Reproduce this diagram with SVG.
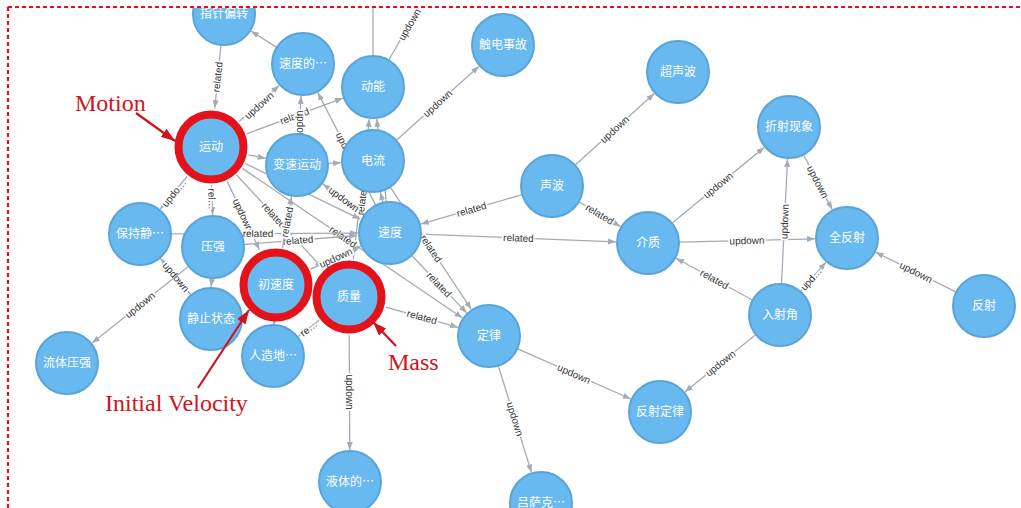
<svg xmlns="http://www.w3.org/2000/svg" width="1021" height="508" viewBox="0 0 1021 508">
<defs>
<style>
.e{stroke:#a5abb6;stroke-width:1.3;fill:none;marker-end:url(#ah)}
.e0{stroke:#a5abb6;stroke-width:1.3;fill:none}
.l{font-family:"Liberation Sans",Arial,sans-serif;font-size:10px;fill:#333;text-anchor:middle;stroke:#fff;stroke-width:3.5;paint-order:stroke;stroke-linejoin:round}
.b{fill:#68b9ef;stroke:#5ba4d9;stroke-width:2}
.t{font-family:"Noto Sans CJK SC","Noto Sans",sans-serif;font-size:12px;fill:#fff;text-anchor:middle}
.ring{fill:none;stroke:#e4131b;stroke-width:8}
.ann{font-family:"Liberation Serif","Times New Roman",serif;font-size:24px;fill:#d0141c}
.aa{stroke:#d0141c;stroke-width:2.2;fill:none;marker-end:url(#ra)}
.fr{stroke:#e8101a;stroke-width:2.2;stroke-dasharray:4 3;fill:none}
</style>
<marker id="ah" viewBox="0 0 8 6" refX="8" refY="3" markerWidth="8" markerHeight="6" markerUnits="userSpaceOnUse" orient="auto"><path d="M0,0L8,3L0,6z" fill="#a5abb6"/></marker>
<marker id="ra" viewBox="0 0 14 10" refX="14" refY="5" markerWidth="14" markerHeight="10" markerUnits="userSpaceOnUse" orient="auto"><path d="M0,0L14,5L0,10z" fill="#d0141c"/></marker>
<clipPath id="cp"><rect x="9" y="8" width="1012" height="500"/></clipPath>
</defs>
<rect x="0" y="0" width="1021" height="508" fill="#fff"/>
<g clip-path="url(#cp)">
<g id="connectors">
<line class="e" x1="221" y1="44.9" x2="214.8" y2="108.2"/>
<text class="l" transform="translate(217.5 77) rotate(-84.4)" y="3.5">related</text>
<line class="e" x1="276.8" y1="47.4" x2="251" y2="31.1"/>
<line class="e" x1="239.2" y1="121.5" x2="279.2" y2="85.4"/>
<text class="l" transform="translate(259 105.5) rotate(-42)" y="3.5">updown</text>
<line class="e" x1="246.6" y1="133.8" x2="343" y2="98.1"/>
<text class="l" transform="translate(294.5 116) rotate(-20.3)" y="3.5">related</text>
<line class="e" x1="375.8" y1="205.4" x2="317.7" y2="92.4"/>
<text class="l" transform="translate(346.5 148.5) rotate(62.8)" y="3.5">updown</text>
<line class="e" x1="298.8" y1="134" x2="301.1" y2="96"/>
<text class="l" transform="translate(300 128) rotate(90)" y="3.5">updown</text>
<line class="e" x1="386.4" y1="202.2" x2="376.7" y2="118.8"/>
<line class="e" x1="353.3" y1="259.3" x2="369.4" y2="118.8"/>
<text class="l" transform="translate(362 200) rotate(-83.5)" y="3.5">related</text>
<line class="e0" x1="373" y1="56" x2="373" y2="-10"/>
<line class="e0" x1="388.7" y1="60.3" x2="428" y2="-8"/>
<text class="l" transform="translate(409.5 24.5) rotate(-59.5)" y="3.5">updown</text>
<line class="e" x1="396.1" y1="140.4" x2="479.1" y2="66.3"/>
<text class="l" transform="translate(437.6 103.4) rotate(-41.7)" y="3.5">updown</text>
<line class="e" x1="248.2" y1="154.8" x2="265.7" y2="158.4"/>
<line class="e" x1="328" y1="163.4" x2="341" y2="162.7"/>
<line class="e" x1="365" y1="214.7" x2="322.8" y2="183.9"/>
<text class="l" transform="translate(344 199.3) rotate(36.2)" y="3.5">updown</text>
<line class="e" x1="522.2" y1="194.6" x2="420.7" y2="224.1"/>
<text class="l" transform="translate(471.5 209.4) rotate(-16.2)" y="3.5">related</text>
<line class="e" x1="421" y1="234.2" x2="616" y2="241.8"/>
<text class="l" transform="translate(518.5 238) rotate(2.2)" y="3.5">related</text>
<line class="e" x1="575" y1="165.2" x2="654.3" y2="93.5"/>
<text class="l" transform="translate(614.6 129.3) rotate(-42.1)" y="3.5">updown</text>
<line class="e" x1="578.7" y1="201.8" x2="620.5" y2="226.6"/>
<text class="l" transform="translate(599.6 214.2) rotate(30.7)" y="3.5">related</text>
<line class="e" x1="671.9" y1="223.3" x2="764.3" y2="147.3"/>
<text class="l" transform="translate(718 185.3) rotate(-39.4)" y="3.5">updown</text>
<line class="e" x1="679" y1="242.2" x2="815" y2="238.8"/>
<text class="l" transform="translate(747 240.5) rotate(-1.4)" y="3.5">updown</text>
<line class="e" x1="781.5" y1="284" x2="787.5" y2="159"/>
<text class="l" transform="translate(784.5 221.5) rotate(-87.3)" y="3.5">updown</text>
<line class="e" x1="803.4" y1="154.5" x2="832.2" y2="209.6"/>
<text class="l" transform="translate(817.8 182) rotate(62.4)" y="3.5">updown</text>
<line class="e" x1="752.8" y1="300.2" x2="676.1" y2="258.3"/>
<text class="l" transform="translate(714.4 279.2) rotate(28.6)" y="3.5">related</text>
<line class="e" x1="800.3" y1="291.6" x2="826" y2="262.1"/>
<text class="l" transform="translate(811 279) rotate(-49)" y="3.5">upd…</text>
<line class="e" x1="956.3" y1="292.2" x2="875.6" y2="252.2"/>
<text class="l" transform="translate(916 272.2) rotate(26.4)" y="3.5">updown</text>
<line class="e" x1="755.9" y1="334.5" x2="684.9" y2="391.9"/>
<text class="l" transform="translate(720.4 363.2) rotate(-38.9)" y="3.5">updown</text>
<line class="e" x1="517.3" y1="348.6" x2="630.8" y2="399"/>
<text class="l" transform="translate(574 373.8) rotate(24)" y="3.5">updown</text>
<line class="e" x1="498.2" y1="365.6" x2="531.5" y2="472.5"/>
<text class="l" transform="translate(515 419) rotate(72.7)" y="3.5">updown</text>
<line class="e" x1="349.2" y1="335" x2="349.8" y2="450"/>
<text class="l" transform="translate(349.5 392) rotate(90)" y="3.5">updown</text>
<line class="e" x1="385.6" y1="307.2" x2="458.2" y2="327.4"/>
<text class="l" transform="translate(422 317) rotate(15.6)" y="3.5">related</text>
<line class="e" x1="411.5" y1="255.3" x2="466.8" y2="312.9"/>
<text class="l" transform="translate(439 284.6) rotate(46.1)" y="3.5">related</text>
<line class="e" x1="390.1" y1="186.8" x2="471.3" y2="309.3"/>
<text class="l" transform="translate(431 248.5) rotate(56.5)" y="3.5">related</text>
<line class="e" x1="245.2" y1="163.5" x2="360.2" y2="219.1"/>
<line class="e" x1="236.7" y1="175" x2="322.6" y2="268.3"/>
<text class="l" transform="translate(274 215.5) rotate(47.4)" y="3.5">related</text>
<line class="e" x1="242.4" y1="168.4" x2="462.5" y2="318"/>
<text class="l" transform="translate(343 236.8) rotate(34.2)" y="3.5">related</text>
<line class="e" x1="227.2" y1="181.4" x2="259.4" y2="249.7"/>
<text class="l" transform="translate(243 215) rotate(64.8)" y="3.5">updown</text>
<line class="e" x1="187" y1="176.5" x2="160.2" y2="209.2"/>
<text class="l" transform="translate(174 193) rotate(-50.8)" y="3.5">updo…</text>
<line class="e" x1="211.4" y1="185" x2="212.6" y2="215"/>
<text class="l" transform="translate(212 199) rotate(88)" y="3.5">rel…</text>
<line class="e" x1="171" y1="233.9" x2="358" y2="233.1"/>
<text class="l" transform="translate(258 233.5) rotate(-0.2)" y="3.5">related</text>
<line class="e" x1="243.9" y1="244.5" x2="357.1" y2="235.5"/>
<text class="l" transform="translate(298 240.2) rotate(-4.5)" y="3.5">related</text>
<line class="e" x1="282.5" y1="247.6" x2="291.5" y2="196.5"/>
<text class="l" transform="translate(287 222) rotate(-80)" y="3.5">related</text>
<line class="e" x1="310.6" y1="269.2" x2="360.9" y2="246.3"/>
<text class="l" transform="translate(335.7 257.8) rotate(-24.5)" y="3.5">updown</text>
<line class="e" x1="319" y1="320.3" x2="298.3" y2="336.4"/>
<text class="l" transform="translate(308.6 328.4) rotate(-37.8)" y="3.5">re…</text>
<line class="e" x1="274.3" y1="318" x2="274" y2="326"/>
<line class="e" x1="212.1" y1="278" x2="211.1" y2="287"/>
<line class="e" x1="191.1" y1="295.2" x2="160.5" y2="258.5"/>
<text class="l" transform="translate(176 277) rotate(50.1)" y="3.5">updown</text>
<line class="e" x1="188.7" y1="266.3" x2="92" y2="343.1"/>
<text class="l" transform="translate(140 305) rotate(-38.5)" y="3.5">updown</text>
<line class="e" x1="382.9" y1="202.8" x2="380.4" y2="192.1"/>
</g>
<g id="node-zhizhenpianzhuan"><circle class="b" cx="224" cy="14" r="31"/><text class="t" x="224" y="18">指针偏转</text></g>
<g id="node-sudude"><circle class="b" cx="303" cy="64" r="31"/><text class="t" x="303" y="68">速度的…</text></g>
<g id="node-dongneng"><circle class="b" cx="373" cy="87" r="31"/><text class="t" x="373" y="91">动能</text></g>
<g id="node-chudianshigu"><circle class="b" cx="503" cy="45" r="31"/><text class="t" x="503" y="49">触电事故</text></g>
<g id="node-chaoshengbo"><circle class="b" cx="678" cy="72" r="31"/><text class="t" x="678" y="76">超声波</text></g>
<g id="node-biansuyundong"><circle class="b" cx="297" cy="165" r="31"/><text class="t" x="297" y="169">变速运动</text></g>
<g id="node-dianliu"><circle class="b" cx="373" cy="161" r="31"/><text class="t" x="373" y="165">电流</text></g>
<g id="node-zheshexianxiang"><circle class="b" cx="789" cy="127" r="31"/><text class="t" x="789" y="131">折射现象</text></g>
<g id="node-shengbo"><circle class="b" cx="552" cy="186" r="31"/><text class="t" x="552" y="190">声波</text></g>
<g id="node-baochijing"><circle class="b" cx="140" cy="234" r="31"/><text class="t" x="140" y="238">保持静…</text></g>
<g id="node-yaqiang"><circle class="b" cx="213" cy="247" r="31"/><text class="t" x="213" y="251">压强</text></g>
<g id="node-sudu"><circle class="b" cx="390" cy="233" r="31"/><text class="t" x="390" y="237">速度</text></g>
<g id="node-jiezhi"><circle class="b" cx="648" cy="243" r="31"/><text class="t" x="648" y="247">介质</text></g>
<g id="node-quanfanshe"><circle class="b" cx="847" cy="238" r="31"/><text class="t" x="847" y="242">全反射</text></g>
<g id="node-jingzhizhuangtai"><circle class="b" cx="211" cy="319" r="31"/><text class="t" x="211" y="323">静止状态</text></g>
<g id="node-renzaodi"><circle class="b" cx="273" cy="356" r="31"/><text class="t" x="273" y="360">人造地…</text></g>
<g id="node-rushejiao"><circle class="b" cx="780" cy="315" r="31"/><text class="t" x="780" y="319">入射角</text></g>
<g id="node-fanshe"><circle class="b" cx="984" cy="306" r="31"/><text class="t" x="984" y="310">反射</text></g>
<g id="node-dinglv"><circle class="b" cx="489" cy="336" r="31"/><text class="t" x="489" y="340">定律</text></g>
<g id="node-liutiyaqiang"><circle class="b" cx="67" cy="363" r="31"/><text class="t" x="67" y="367">流体压强</text></g>
<g id="node-fanshedinglv"><circle class="b" cx="660" cy="412" r="31"/><text class="t" x="660" y="416">反射定律</text></g>
<g id="node-yetide"><circle class="b" cx="350" cy="482" r="31"/><text class="t" x="350" y="486">液体的…</text></g>
<g id="node-lvsake"><circle class="b" cx="541" cy="503" r="31"/><text class="t" x="541" y="507">吕萨克…</text></g>
<g id="node-yundong"><circle class="b" cx="211" cy="147" r="31"/><circle class="ring" cx="211" cy="147" r="32.5"/><text class="t" x="211" y="151">运动</text></g>
<g id="node-chusudu"><circle class="b" cx="276" cy="285" r="31"/><circle class="ring" cx="276" cy="285" r="32.5"/><text class="t" x="276" y="289">初速度</text></g>
<g id="node-zhiliang"><circle class="b" cx="349" cy="297" r="31"/><circle class="ring" cx="349" cy="297" r="32.5"/><text class="t" x="349" y="301">质量</text></g>
</g>
<g id="annotations">
<text class="ann" x="75" y="111">Motion</text>
<line class="aa" x1="136" y1="113" x2="175" y2="141"/>
<text class="ann" x="105" y="411">Initial Velocity</text>
<line class="aa" x1="198" y1="388" x2="249" y2="310"/>
<text class="ann" x="388" y="370">Mass</text>
<line class="aa" x1="396" y1="346" x2="373" y2="322"/>
</g>
<path class="fr" d="M8,7H1021"/>
<path class="fr" d="M8,7V508"/>
</svg>
